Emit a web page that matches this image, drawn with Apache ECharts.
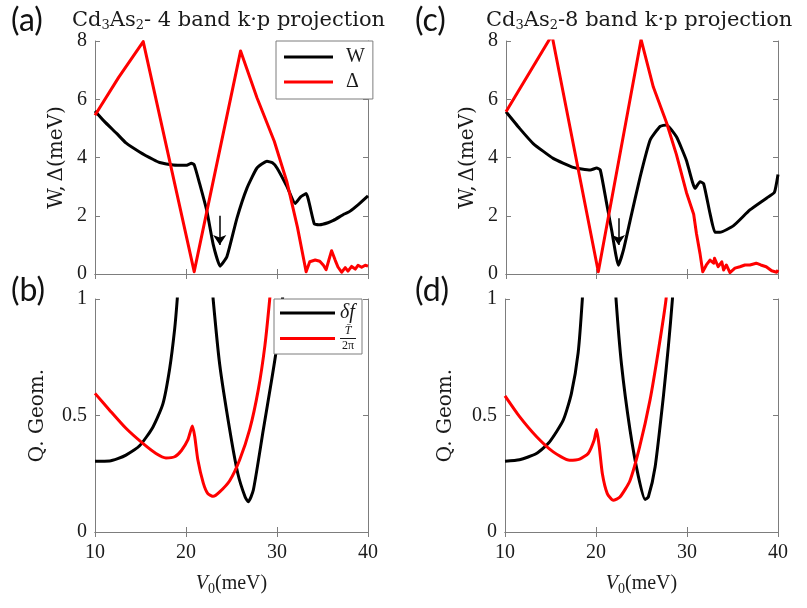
<!DOCTYPE html>
<html>
<head>
<meta charset="utf-8">
<script src="https://cdn.jsdelivr.net/npm/echarts@6/dist/echarts.min.js"></script>
<style>
html, body { margin: 0; padding: 0; background: #fff; }
#chart { width: 807px; height: 608px; }
</style>
</head>
<body>
<div id="chart"></div>
<script>
// V0 (meV) range and ticks shared by all panels
var xRange = [10, 40];
var yTopTicks = [0, 8, 2];
var yBotTicks = [0, 1, 0.5];

// (a) 4 band k.p
var wA = [[10,5.6],[11,5.25],[12.4,4.82],[13.4,4.5],[14.9,4.19],[16.4,3.93],[17.1,3.83],[18.6,3.74],[20.0,3.73],[20.6,3.8],[20.9,3.75],[21.5,3.1],[22.3,2.15],[23.0,1.0],[23.75,0.27],[24.5,0.6],[25.6,1.92],[26.7,2.95],[27.8,3.64],[28.9,3.87],[29.5,3.82],[30.0,3.64],[31.1,3.0],[32.0,2.42],[32.6,2.65],[33.2,2.76],[34.1,1.72],[34.7,1.69],[35.6,1.76],[36.2,1.84],[37.4,2.06],[38.0,2.15],[39,2.4],[40,2.68]];
var deltaA = [[10,5.45],[12.6,6.75],[15.3,7.98],[20.9,0.08],[26.0,7.66],[27.8,6.05],[29.7,4.56],[31.1,3.15],[31.4,2.75],[32.25,1.6],[33.2,0.08],[33.6,0.42],[34.2,0.48],[34.7,0.44],[35.1,0.3],[35.4,0.15],[35.7,0.48],[36.0,0.8],[36.4,0.47],[36.7,0.24],[37.1,0.06],[37.5,0.22],[37.8,0.1],[38.2,0.26],[38.6,0.17],[38.9,0.3],[39.3,0.23],[39.7,0.3],[40,0.27]];
var arrowA = [23.7, 2.0, 1.0];

// (b) quantum geometry, 4 band
var dfB = [[10,0.304],[11.6,0.305],[12.5,0.315],[13.4,0.33],[14.9,0.37],[16.36,0.45],[17.46,0.55],[18.2,0.70],[18.75,0.87],[19.04,1.0],[19.2,1.1],[22.8,1.1],[22.98,1.0],[23.7,0.72],[24.8,0.44],[25.7,0.25],[26.5,0.15],[26.84,0.13],[27.4,0.18],[28.5,0.44],[29.4,0.65],[29.96,0.79],[30.6,1.0],[30.8,1.1]];
var tB = [[10,0.595],[11.58,0.524],[13.4,0.445],[15.26,0.38],[16.7,0.337],[17.8,0.318],[18.75,0.323],[19.5,0.35],[20.2,0.395],[20.7,0.455],[20.96,0.41],[21.3,0.31],[21.9,0.21],[22.4,0.165],[23.0,0.153],[23.7,0.172],[24.8,0.22],[25.9,0.31],[27.0,0.44],[27.94,0.61],[28.67,0.80],[29.2,1.0],[29.4,1.1]];

// (c) 8 band k.p
var wC = [[10,5.57],[11.5,5.0],[13.0,4.48],[15.2,3.97],[17.4,3.66],[19.3,3.57],[20.0,3.64],[20.4,3.57],[21.1,2.42],[21.65,1.51],[22.4,0.3],[22.95,0.82],[23.7,1.85],[24.8,3.34],[25.9,4.6],[27.0,5.07],[27.7,5.12],[28.8,4.71],[29.9,3.9],[30.85,2.94],[31.4,3.17],[31.8,3.1],[32.5,2.08],[33.05,1.43],[33.6,1.43],[35.1,1.66],[36.9,2.2],[38.8,2.62],[39.6,2.8],[40,3.42]];
var deltaC = [[10,5.57],[15.07,8.2],[20.18,0.08],[24.9,8.05],[26.25,6.42],[27.7,5.2],[28.8,4.1],[29.9,2.8],[30.7,2.05],[31.0,1.4],[31.4,0.7],[31.7,0.08],[32.1,0.31],[32.5,0.48],[32.9,0.37],[33.0,0.54],[33.4,0.25],[33.8,0.42],[34.0,0.14],[34.3,0.31],[34.7,0.05],[35.25,0.2],[35.8,0.25],[36.35,0.31],[36.9,0.31],[37.6,0.37],[38.1,0.31],[38.7,0.25],[39.3,0.11],[39.85,0.06],[40,0.14]];
var arrowC = [22.4, 1.91, 1.0];

// (d) quantum geometry, 8 band
var dfD = [[10,0.304],[11.6,0.31],[13.45,0.337],[14.9,0.387],[16.4,0.48],[17.3,0.595],[18.04,0.77],[18.5,1.0],[18.6,1.1],[22.1,1.1],[22.2,1.0],[22.8,0.72],[23.73,0.44],[24.65,0.24],[25.4,0.14],[25.75,0.15],[26.5,0.28],[27.4,0.58],[27.96,0.80],[28.4,1.0],[28.5,1.1]];
var tD = [[10,0.584],[11.6,0.495],[13.45,0.41],[15.3,0.344],[17.1,0.308],[18.2,0.313],[19.14,0.337],[19.8,0.395],[20.06,0.44],[20.36,0.366],[20.7,0.25],[21.24,0.165],[21.9,0.136],[22.63,0.15],[23.73,0.22],[24.8,0.366],[25.94,0.567],[26.86,0.78],[27.7,1.0],[27.8,1.1]];

var serif = 'Liberation Serif';
var wide = 'DejaVu Serif';
var frame = '#7d7d7d';
var ink = '#1a1a1a';

var grids = [
    {left: 95, top: 41, width: 273, height: 233},
    {left: 95, top: 299, width: 273, height: 233},
    {left: 506, top: 41, width: 272, height: 233},
    {left: 505, top: 299, width: 273, height: 233}
];

var xAxes = [], yAxes = [];
function addAxes(g, bottomRow, ticks, yName, yGap) {
    var tick = {inside: true, length: 5, lineStyle: {color: frame}};
    var line = {lineStyle: {color: frame, width: 1}};
    xAxes.push({
        gridIndex: g, type: 'value', min: xRange[0], max: xRange[1], interval: 10,
        position: 'bottom', axisLine: line, axisTick: tick, splitLine: {show: false},
        axisLabel: {show: bottomRow, margin: 11, fontFamily: serif, fontSize: 20, color: ink},
        name: bottomRow ? '{i|V}{s|0}{r|(meV)}' : '', nameLocation: 'middle', nameGap: 40,
        nameTextStyle: {rich: {
            i: {fontFamily: serif, fontSize: 20, fontStyle: 'italic', color: ink},
            s: {fontFamily: serif, fontSize: 14, color: ink, verticalAlign: 'bottom', padding: [10, 0, 0, 0]},
            r: {fontFamily: serif, fontSize: 20, color: ink}
        }}
    });
    xAxes.push({
        gridIndex: g, type: 'value', min: xRange[0], max: xRange[1], interval: 10,
        position: 'top', axisLine: line, axisTick: tick, splitLine: {show: false},
        axisLabel: {show: false}
    });
    yAxes.push({
        gridIndex: g, type: 'value', min: ticks[0], max: ticks[1], interval: ticks[2],
        position: 'left', axisLine: line, axisTick: tick, splitLine: {show: false},
        axisLabel: {margin: 8, fontFamily: serif, fontSize: 20, color: ink},
        name: yName, nameLocation: 'middle', nameGap: yGap, nameRotate: 90,
        nameTextStyle: {fontFamily: wide, fontSize: 20, color: ink}
    });
    yAxes.push({
        gridIndex: g, type: 'value', min: ticks[0], max: ticks[1], interval: ticks[2],
        position: 'right', axisLine: line, axisTick: tick, splitLine: {show: false},
        axisLabel: {show: false}
    });
}
addAxes(0, false, yTopTicks, 'W,\u2009\u0394(meV)', 28);
addAxes(1, true, yBotTicks, 'Q. Geom.', 47);
addAxes(2, false, yTopTicks, 'W,\u2009\u0394(meV)', 28);
addAxes(3, true, yBotTicks, 'Q. Geom.', 49);

function curve(name, data, g, color, smooth, arrow) {
    var s = {
        name: name, type: 'line', data: data, xAxisIndex: g * 2, yAxisIndex: g * 2,
        symbol: 'none', showSymbol: false, clip: true, smooth: smooth,
        lineStyle: {color: color, width: 3, join: 'round'}, itemStyle: {color: color}
    };
    if (arrow) {
        s.markLine = {
            silent: true, symbol: ['none', 'arrow'], symbolSize: [10, 10],
            lineStyle: {color: '#000', width: 1.5, type: 'solid'},
            label: {show: false},
            data: [[{coord: [arrow[0], arrow[1]]}, {coord: [arrow[0], arrow[2]]}]]
        };
    }
    return s;
}

var titleRich = {
    r: {fontFamily: wide, fontSize: 21, fontWeight: 'normal', color: ink},
    s: {fontFamily: wide, fontSize: 13, fontWeight: 'normal', color: ink, verticalAlign: 'bottom', padding: [9, 0, 0, 0]}
};
var letter = {fontFamily: 'Lato', fontSize: 32, fontWeight: 'normal', color: '#111'};

var option = {
    animation: false,
    backgroundColor: '#fff',
    title: [
        {text: '(a)', left: 6, top: 0, textStyle: letter},
        {text: '(b)', left: 6, top: 270, textStyle: letter},
        {text: '(c)', left: 410, top: 0, textStyle: letter},
        {text: '(d)', left: 410, top: 270, textStyle: letter},
        {text: '{r|Cd}{s|3}{r|As}{s|2}{r|- 4 band k\u00b7p projection}', left: 67, top: 5, textStyle: {fontWeight: 'normal', rich: titleRich}},
        {text: '{r|Cd}{s|3}{r|As}{s|2}{r|-8 band k\u00b7p projection}', left: 481, top: 5, textStyle: {fontWeight: 'normal', rich: titleRich}}
    ],
    grid: grids,
    xAxis: xAxes,
    yAxis: yAxes,
    legend: [
        {
            data: ['W', '\u0394'], orient: 'vertical', left: 276, top: 41,
            icon: 'rect', itemWidth: 49, itemHeight: 3, itemGap: 5, padding: [6, 8, 7, 8],
            borderColor: frame, borderWidth: 1, backgroundColor: '#fff',
            textStyle: {fontFamily: serif, fontSize: 20, color: ink, padding: [0, 0, 0, 8]}
        },
        {
            data: ['\u03b4f', 'T\u0304/2\u03c0'], orient: 'vertical', left: 274, top: 299,
            icon: 'rect', itemWidth: 55, itemHeight: 3, itemGap: 2, padding: [4, 6, 2, 6],
            borderColor: frame, borderWidth: 1, backgroundColor: '#fff',
            formatter: function (name) {
                if (name === '\u03b4f') return '{i|\u03b4f}';
                return '{n|T\u0304}\n{bar|}\n{d|2\u03c0}';
            },
            textStyle: {
                fontFamily: serif, color: ink,
                rich: {
                    i: {fontFamily: serif, fontSize: 20, fontStyle: 'italic', color: ink},
                    n: {fontFamily: serif, fontSize: 12, fontStyle: 'italic', color: ink, width: 16, align: 'center', lineHeight: 13},
                    bar: {width: 16, height: 1, lineHeight: 2, backgroundColor: ink},
                    d: {fontFamily: serif, fontSize: 12, color: ink, width: 16, align: 'center', lineHeight: 13}
                }
            }
        }
    ],
    series: [
        curve('W', wA, 0, '#000', 0.15, arrowA),
        curve('\u0394', deltaA, 0, '#ff0000', false),
        curve('\u03b4f', dfB, 1, '#000', 0.2),
        curve('T\u0304/2\u03c0', tB, 1, '#ff0000', 0.2),
        curve('W', wC, 2, '#000', 0.15, arrowC),
        curve('\u0394', deltaC, 2, '#ff0000', false),
        curve('\u03b4f', dfD, 3, '#000', 0.2),
        curve('T\u0304/2\u03c0', tD, 3, '#ff0000', 0.2)
    ]
};

var myChart = echarts.init(document.getElementById('chart'));
myChart.setOption(option);
window.onresize = myChart.resize;
</script>
</body>
</html>
